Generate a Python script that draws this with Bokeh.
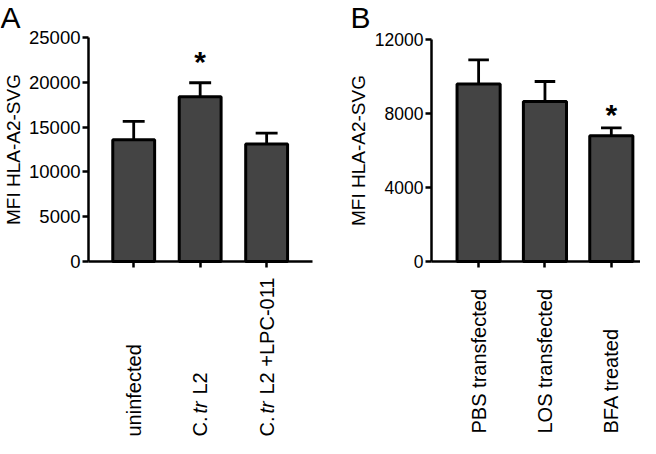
import math
from bokeh.plotting import figure
from bokeh.models import Range1d, FixedTicker, Label
from bokeh.layouts import row
from bokeh.embed import file_html
from bokeh.resources import INLINE

FONT = "Liberation Sans"

# ---------------- data ----------------
a_groups = ["uninfected", "C. tr L2", "C. tr L2 +LPC-011"]
a_means = [13600, 18400, 13100]
a_errors = [2050, 1550, 1220]
a_signif = [False, True, False]
a_ticks = [0, 5000, 10000, 15000, 20000, 25000]

b_groups = ["PBS transfected", "LOS transfected", "BFA treated"]
b_means = [9600, 8650, 6800]
b_errors = [1300, 1080, 420]
b_signif = [False, False, True]
b_ticks = [0, 4000, 8000, 12000]

y_title = "MFI HLA-A2-SVG"

PAGE_TOP, PAGE_BOTTOM = 0, 438


def make_panel(fig_left, fig_right, box_left, box_right, box_top, box_bottom,
               x0, x1, ymax, ticks, tick_size):
    """Figure whose frame fills the canvas; axes are pinned at the plot box."""
    ppx = (box_right - box_left) / (x1 - x0)
    ppy = (box_bottom - box_top) / ymax

    def tx(px):
        return x0 + (px - box_left) / ppx

    def ty(py):
        return (box_bottom - py) / ppy

    p = figure(width=fig_right - fig_left, height=PAGE_BOTTOM - PAGE_TOP,
               min_border=0,
               x_range=Range1d(tx(fig_left), tx(fig_right)),
               y_range=Range1d(ty(PAGE_BOTTOM), ty(PAGE_TOP)),
               output_backend="svg", toolbar_location=None)
    p.xgrid.visible = False
    p.ygrid.visible = False
    p.outline_line_color = None
    p.background_fill_color = "white"
    p.border_fill_color = "white"
    for ax in (p.xaxis[0], p.yaxis[0]):
        ax.axis_line_width = 2.5
        ax.axis_line_color = "black"
        ax.major_tick_line_width = 2.5
        ax.major_tick_line_color = "black"
        ax.major_tick_out = 6
        ax.major_tick_in = 0
        ax.minor_tick_out = 0
        ax.minor_tick_in = 0
        ax.major_label_text_font = FONT
        ax.major_label_text_color = "black"
    ya = p.yaxis[0]
    ya.fixed_location = x0
    ya.bounds = (0, ymax)
    ya.ticker = FixedTicker(ticks=ticks)
    ya.major_label_text_font_size = tick_size
    ya.major_label_standoff = 2
    xa = p.xaxis[0]
    xa.fixed_location = 0
    xa.bounds = (x0, x1)
    xa.ticker = FixedTicker(ticks=[0, 1, 2])
    xa.major_label_overrides = {0: "", 1: "", 2: ""}
    return p, tx, ty


def draw_bars(p, means, errors, width, cap_half):
    xs = list(range(len(means)))
    tops = [m + e for m, e in zip(means, errors)]
    p.segment(x0=xs, y0=means, x1=xs, y1=tops, line_color="black", line_width=2.8)
    p.segment(x0=[x - cap_half for x in xs], y0=tops,
              x1=[x + cap_half for x in xs], y1=tops,
              line_color="black", line_width=2.8)
    p.vbar(x=xs, top=means, bottom=0, width=width, fill_color="#444444",
           line_color="black", line_width=3)
    return tops


def lab(p, x, y, text, size, angle=0.0, align="left", baseline="alphabetic",
        style="normal"):
    p.add_layout(Label(x=x, y=y, text=text, angle=angle, text_font=FONT,
                       text_font_size=size, text_align=align,
                       text_baseline=baseline, text_font_style=style,
                       text_color="black"))


# ---------------- panel A ----------------
pa, ax_, ay_ = make_panel(0, 322, 88, 312, 37, 261, -0.68, 2.69, 25000,
                          a_ticks, "18.5px")
a_tops = draw_bars(pa, a_means, a_errors, 0.63, 0.165)
lab(pa, ax_(0), ay_(0), "A", "30px", baseline="top")
lab(pa, ax_(2), ay_(149), y_title, "19px", angle=math.pi / 2, align="center",
    baseline="top")
star_gap_a = ay_(261 - 21) - ay_(261)
for i, (t, s) in enumerate(zip(a_tops, a_signif)):
    if s:
        lab(pa, i, t + star_gap_a, "*", "30px", align="center", style="bold")
LAB_A = 436
lab(pa, 0, ay_(LAB_A), a_groups[0], "20px", angle=math.pi / 2, baseline="middle")
for i in (1, 2):
    rest = a_groups[i].split("tr ", 1)[1]
    lab(pa, i, ay_(LAB_A), "C. ", "20px", angle=math.pi / 2, baseline="middle")
    lab(pa, i, ay_(LAB_A - 23), "tr", "20px", angle=math.pi / 2, baseline="middle",
        style="italic")
    lab(pa, i, ay_(LAB_A - 42), rest, "20px", angle=math.pi / 2, baseline="middle")

# ---------------- panel B ----------------
pb, bx_, by_ = make_panel(322, 640, 431, 640, 39, 261, -0.71, 2.44, 12000,
                          b_ticks, "17.5px")
b_tops = draw_bars(pb, b_means, b_errors, 0.65, 0.155)
lab(pb, bx_(350), by_(0), "B", "30px", baseline="top")
lab(pb, bx_(347), by_(150), y_title, "19px", angle=math.pi / 2, align="center",
    baseline="top")
star_gap_b = by_(261 - 13) - by_(261)
for i, (t, s) in enumerate(zip(b_tops, b_signif)):
    if s:
        lab(pb, i, t + star_gap_b, "*", "30px", align="center", style="bold")
for i, name in enumerate(b_groups):
    lab(pb, i, by_(433), name, "20px", angle=math.pi / 2, baseline="middle")

layout = row(pa, pb, spacing=0)
open("out.html", "w").write(file_html(layout, INLINE))
